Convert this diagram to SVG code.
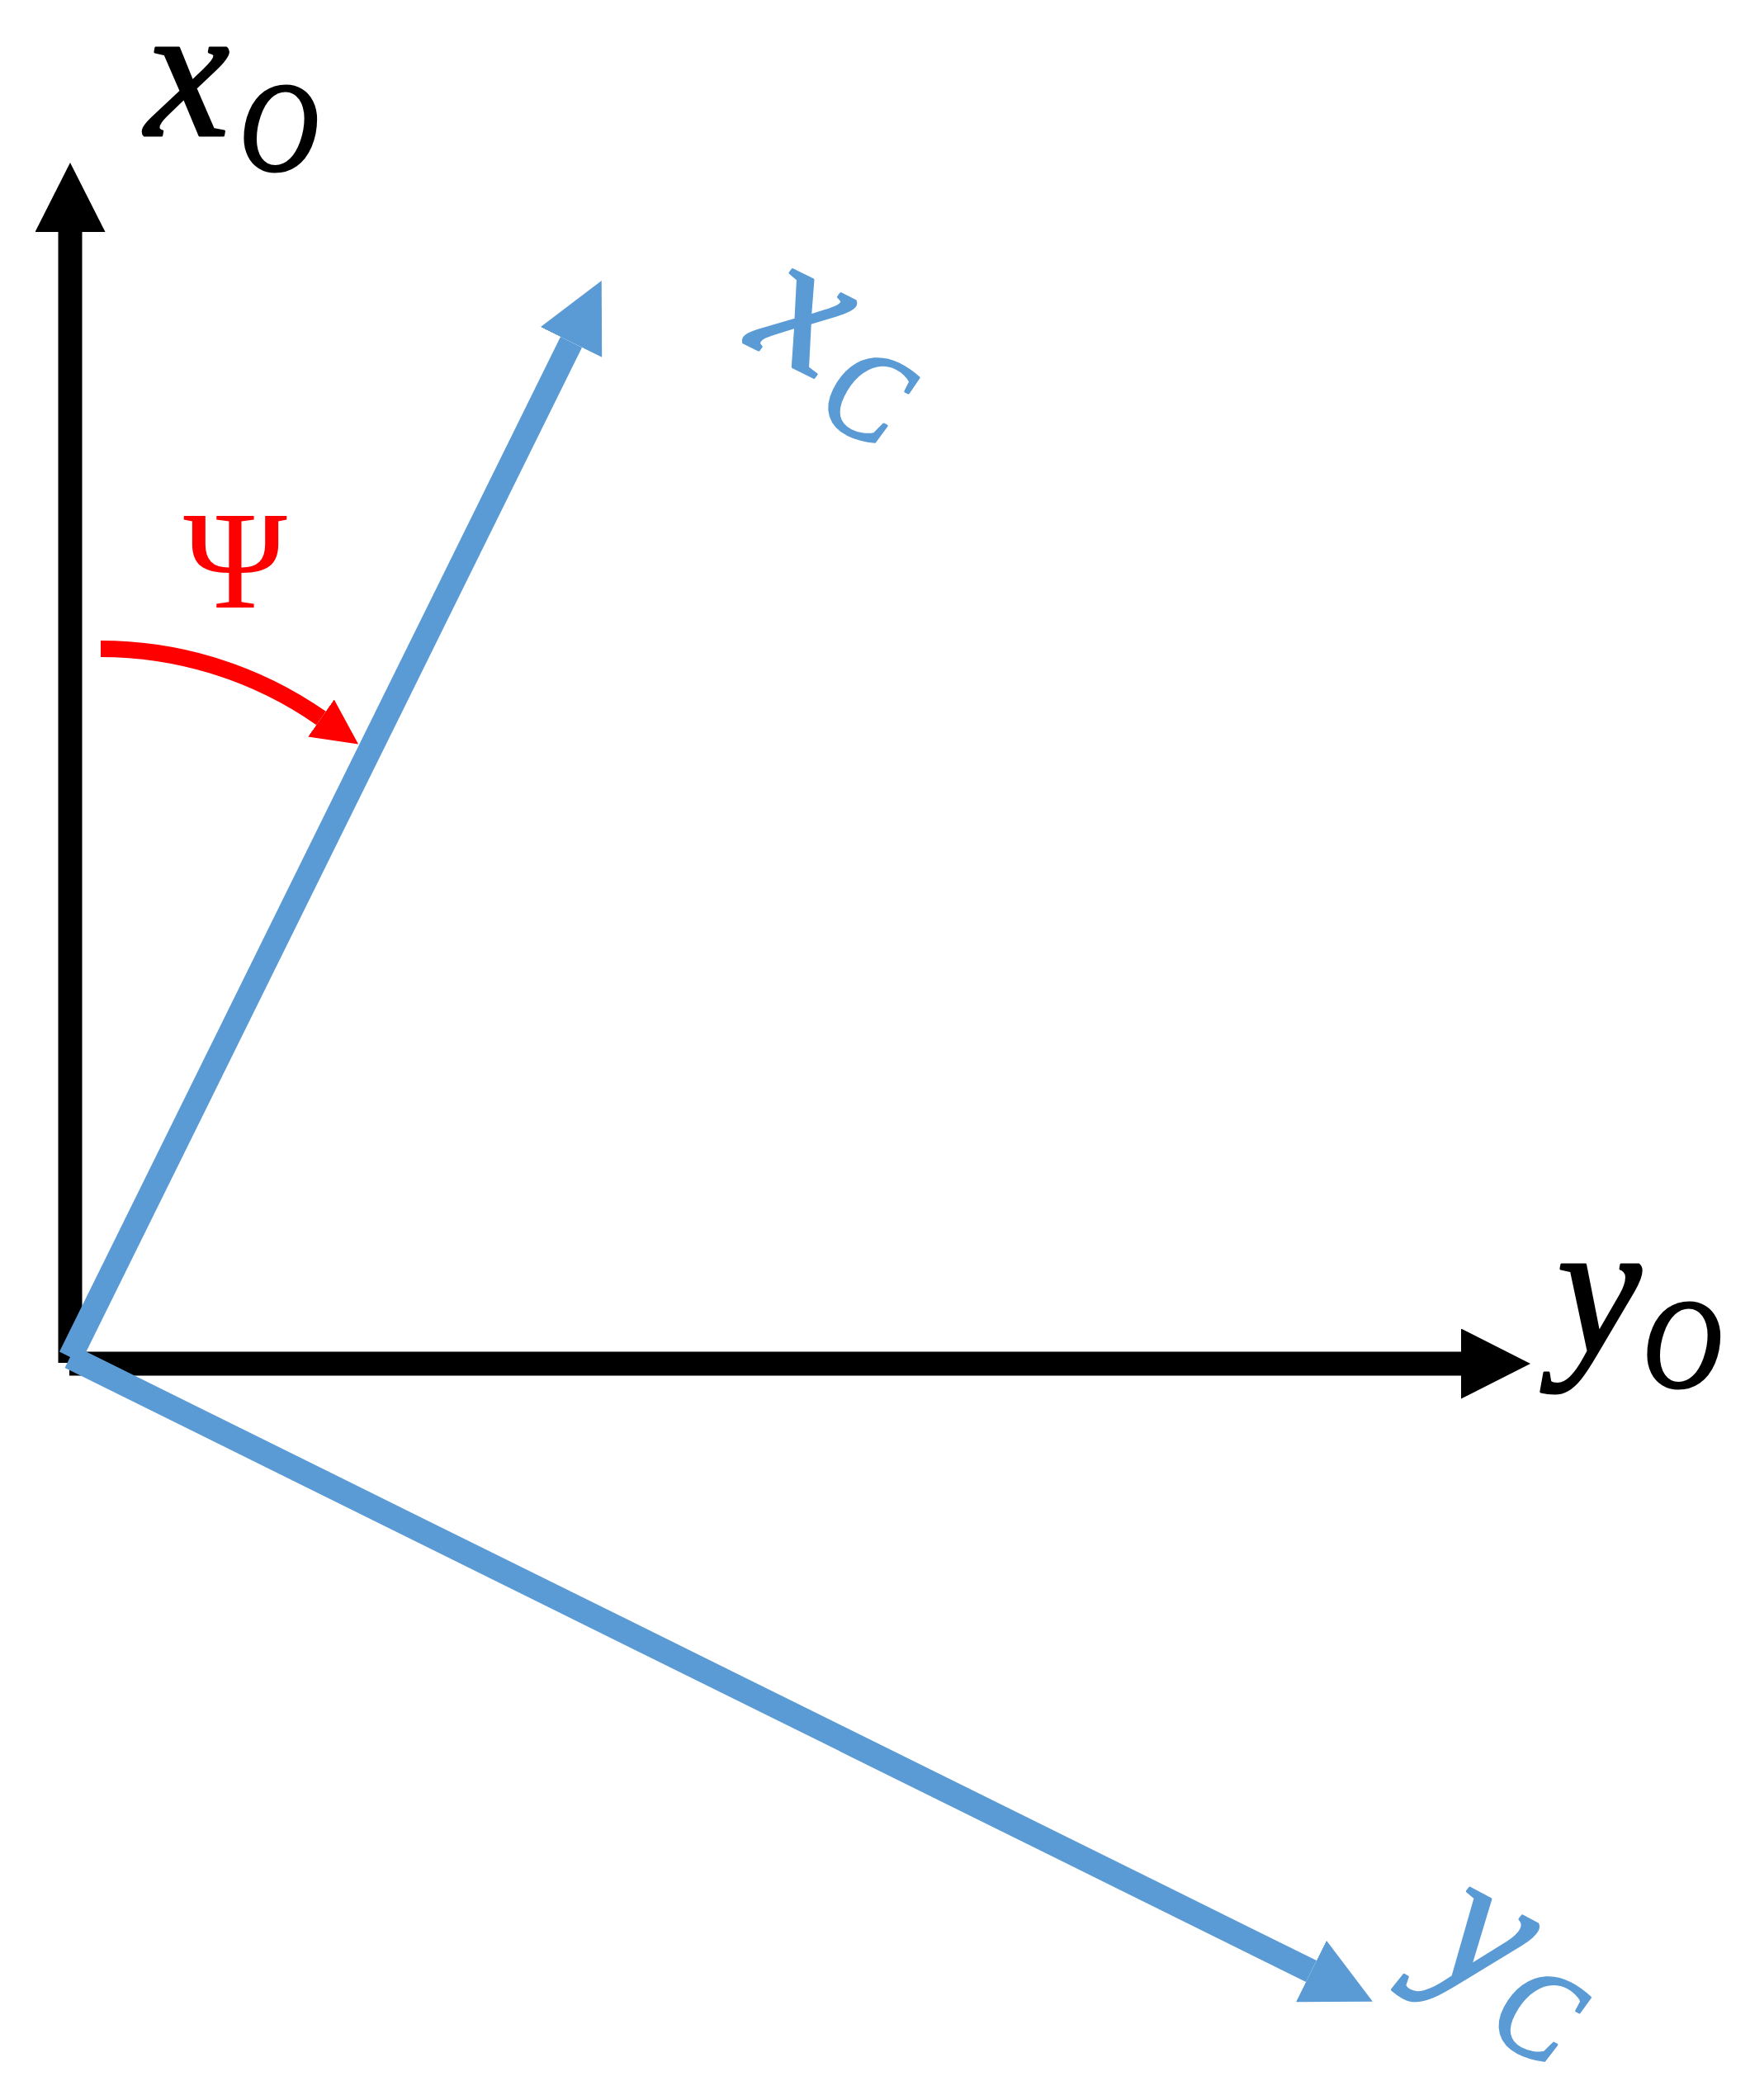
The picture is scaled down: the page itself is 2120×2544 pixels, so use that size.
<svg xmlns="http://www.w3.org/2000/svg" width="2120" height="2544" viewBox="0 0 2120 2544">
  <style>
    .lbl { font-family: "Liberation Serif", "DejaVu Serif", serif; font-style: italic; stroke-width: 3; stroke-linejoin: round; }
    .blk { fill: #000000; stroke: #000000; }
    .blu { fill: #5B9BD5; stroke: #5B9BD5; }
    .ax { fill: none; stroke-linecap: butt; }
  </style>
  <defs>
    <marker id="arrBlack" markerUnits="userSpaceOnUse" viewBox="0 0 84 85" refX="0" refY="42.5" markerWidth="84" markerHeight="85" orient="auto">
      <path d="M0,0 L84,42.5 L0,85 Z" fill="#000000"/>
    </marker>
    <marker id="arrBlue" markerUnits="userSpaceOnUse" viewBox="0 0 83 83" refX="0" refY="41.5" markerWidth="83" markerHeight="83" orient="auto">
      <path d="M0,0 L83,41.5 L0,83 Z" fill="#5B9BD5"/>
    </marker>
    <marker id="arrRed" markerUnits="userSpaceOnUse" viewBox="0 0 55 55" refX="0" refY="27.5" markerWidth="55" markerHeight="55" orient="auto">
      <path d="M0,0 L55,27.5 L0,55 Z" fill="#FF0000"/>
    </marker>
  </defs>
  <rect width="2120" height="2544" fill="#ffffff"/>

  <g id="connectors">
    <line id="axis-xO" class="ax" x1="85" y1="1651" x2="85" y2="281" stroke="#000000" stroke-width="29" marker-end="url(#arrBlack)"/>
    <line id="axis-yO" class="ax" x1="84" y1="1652" x2="1770" y2="1652" stroke="#000000" stroke-width="29" marker-end="url(#arrBlack)"/>
    <line id="axis-xC" class="ax" x1="85" y1="1644" x2="692" y2="414.5" stroke="#5B9BD5" stroke-width="29" marker-end="url(#arrBlue)"/>
    <line id="axis-yC" class="ax" x1="85" y1="1644" x2="1588.5" y2="2388" stroke="#5B9BD5" stroke-width="29" marker-end="url(#arrBlue)"/>
    <path id="angle-psi" class="ax" d="M122,786 A466,466 0 0 1 389,870" stroke="#FF0000" stroke-width="20" marker-end="url(#arrRed)"/>
  </g>

  <g id="label-xO">
    <text class="lbl blk" x="176" y="164" font-size="230">x</text>
    <text class="lbl blk" x="290" y="206" font-size="155" textLength="96" lengthAdjust="spacingAndGlyphs">O</text>
  </g>

  <g id="label-yO">
    <text class="lbl blk" x="1886" y="1638" font-size="230">y</text>
    <text class="lbl blk" x="1990" y="1680" font-size="155" textLength="96" lengthAdjust="spacingAndGlyphs">O</text>
  </g>

  <g id="label-xC" transform="translate(897,413) rotate(26.5)">
    <text class="lbl blu" x="5" y="0" font-size="230">x</text>
    <text class="lbl blu" x="120" y="42" font-size="155" textLength="92" lengthAdjust="spacingAndGlyphs">C</text>
  </g>

  <g id="label-yC" transform="translate(1708,2368) rotate(28)">
    <text class="lbl blu" x="20" y="0" font-size="230">y</text>
    <text class="lbl blu" x="124" y="42" font-size="155" textLength="92" lengthAdjust="spacingAndGlyphs">C</text>
  </g>

  <g id="label-psi">
    <text x="285" y="736" font-size="170" text-anchor="middle" fill="#FF0000" font-family="Liberation Serif, DejaVu Serif, serif">Ψ</text>
  </g>
</svg>
